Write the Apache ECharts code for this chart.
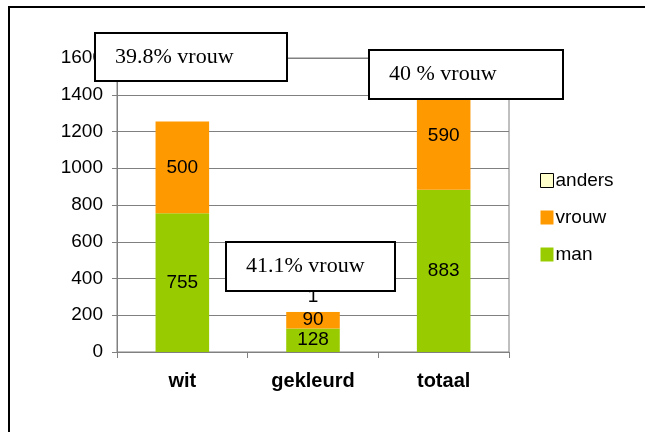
<!DOCTYPE html>
<html>
<head>
<meta charset="utf-8">
<script src="https://cdn.jsdelivr.net/npm/echarts@6/dist/echarts.min.js"></script>
<style>
  html, body { margin: 0; padding: 0; background: #fff; }
  #chart { width: 645px; height: 432px; }
</style>
</head>
<body>
<div id="chart"></div>
<script>
const categories = ['wit', 'gekleurd', 'totaal'];
const man = [755, 128, 883];
const vrouw = [500, 90, 590];
const anders = [0, 1, 0];
const yTicks = [0, 1600, 200]; // min, max, interval
const notes = ['39.8% vrouw', '40 % vrouw', '41.1% vrouw'];

const sans = '"Liberation Sans", Arial, sans-serif';
const serif = '"Liberation Serif", "Times New Roman", serif';

// callout box: x, y, w, h
function noteBox (text, x, y, w, h) {
  return {
    type: 'group',
    z: 100,
    children: [{
      type: 'rect',
      shape: { x: x, y: y, width: w, height: h },
      style: { fill: '#fff', stroke: '#000', lineWidth: 2 },
      z: 100
    }, {
      type: 'text',
      x: x + 20,
      y: y + h / 2,
      style: {
        text: text,
        font: '22px ' + serif,
        fill: '#000',
        verticalAlign: 'middle'
      },
      z: 101
    }]
  };
}

const labelStyle = {
  show: true,
  position: 'inside',
  color: '#000',
  fontSize: 19,
  fontFamily: sans
};

const chart = echarts.init(document.getElementById('chart'));
chart.setOption({
  animation: false,
  grid: {
    left: 117, right: 136, top: 58, bottom: 80,
    show: true, borderColor: '#808080', borderWidth: 1
  },
  legend: {
    orient: 'vertical',
    left: 535,
    top: 166,
    icon: 'rect',
    itemWidth: 13,
    itemHeight: 14,
    itemGap: 18,
    data: [
      { name: 'anders', itemStyle: { borderColor: '#000', borderWidth: 1 } },
      'vrouw',
      'man'
    ],
    textStyle: { fontSize: 19, fontFamily: sans, color: '#000', padding: [0, 0, 0, -3] }
  },
  xAxis: {
    type: 'category',
    data: categories,
    axisLine: { lineStyle: { color: '#808080', width: 1 } },
    axisTick: { show: true, length: 6, lineStyle: { color: '#808080' } },
    axisLabel: { color: '#000', fontSize: 20, fontWeight: 'bold', fontFamily: sans, margin: 19 }
  },
  yAxis: {
    type: 'value',
    min: yTicks[0],
    max: yTicks[1],
    interval: yTicks[2],
    axisLine: { show: true, lineStyle: { color: '#808080', width: 1 } },
    axisTick: { show: true, length: 5, lineStyle: { color: '#808080' } },
    axisLabel: { color: '#000', fontSize: 19, fontFamily: sans, margin: 14, formatter: v => String(v) },
    splitLine: { lineStyle: { color: '#808080', width: 1 } }
  },
  series: [{
    name: 'man',
    type: 'bar',
    stack: 'all',
    barWidth: '41%',
    data: man,
    itemStyle: { color: '#99CC00' },
    label: labelStyle
  }, {
    name: 'vrouw',
    type: 'bar',
    stack: 'all',
    data: vrouw,
    itemStyle: { color: '#FF9900' },
    label: labelStyle
  }, {
    name: 'anders',
    type: 'bar',
    stack: 'all',
    data: anders,
    itemStyle: { color: '#FFFFCC', borderWidth: 0 },
    label: {
      show: true,
      position: 'top',
      color: '#000',
      fontSize: 19,
      fontFamily: sans,
      formatter: p => (p.value ? p.value : '')
    }
  }],
  graphic: [
    {
      type: 'rect',
      shape: { x: 9, y: 7, width: 700, height: 500 },
      style: { fill: 'none', stroke: '#000', lineWidth: 2 },
      z: 100
    },
    noteBox(notes[0], 95, 33, 192, 48),
    noteBox(notes[1], 369, 50, 194, 49),
    noteBox(notes[2], 226, 242, 169, 49)
  ]
});
</script>
</body>
</html>
